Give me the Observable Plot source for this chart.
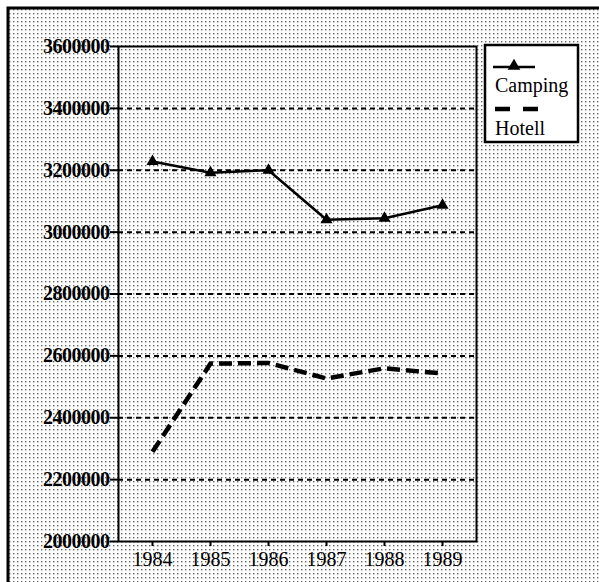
<!DOCTYPE html>
<html>
<head>
<meta charset="utf-8">
<script src="https://cdn.jsdelivr.net/npm/d3@7"></script>
<script src="https://cdn.jsdelivr.net/npm/@observablehq/plot@0.6"></script>
<style>
  html, body { margin: 0; padding: 0; background: #fff; }
  #chart { width: 599px; height: 582px; }
</style>
</head>
<body>
<div id="chart"></div>
<script>
const years = ["1984", "1985", "1986", "1987", "1988", "1989"];
const camping = [3228000, 3192000, 3200000, 3040000, 3045000, 3087000];
const hotell = [2290000, 2575000, 2577000, 2527000, 2560000, 2543000];
const yTicks = [2000000, 2200000, 2400000, 2600000, 2800000, 3000000, 3200000, 3400000, 3600000];
const gridValues = [2200000, 2400000, 2600000, 2800000, 3000000, 3200000, 3400000];
const seriesNames = ["Camping", "Hotell"];

const campData = years.map((y, i) => ({year: y, value: camping[i]}));
const hotData = years.map((y, i) => ({year: y, value: hotell[i]}));

const W = 599, H = 582;
const FONT = "'Liberation Serif', 'Times New Roman', serif";

const plot = Plot.plot({
  width: W,
  height: H,
  marginLeft: 118,
  marginRight: 123,
  marginTop: 46,
  marginBottom: 41,
  style: {fontFamily: FONT, fontSize: "20px", background: "transparent", color: "black"},
  x: {type: "point", domain: years, padding: 0.56, label: null},
  y: {domain: [2000000, 3600000], label: null},
  marks: [
    Plot.ruleY(gridValues, {stroke: "black", strokeWidth: 2, strokeDasharray: "5,4"}),
    Plot.frame({stroke: "black", strokeWidth: 2}),
    Plot.axisY({ticks: yTicks, tickFormat: d3.format("d"), tickSize: 8, tickPadding: 1, stroke: "black", strokeWidth: 2, strokeOpacity: 1, fontSize: 20, fontWeight: "bold", label: null}),
    Plot.axisX({tickSize: 5, tickPadding: 5, stroke: "black", strokeWidth: 2, strokeOpacity: 1, fontSize: 20, label: null}),
    Plot.line(campData, {x: "year", y: "value", stroke: "black", strokeWidth: 2.5}),
    Plot.dot(campData, {x: "year", y: "value", symbol: "triangle", r: 4.5, fill: "black", stroke: "none"}),
    Plot.line(hotData, {x: "year", y: "value", stroke: "black", strokeWidth: 4.5, strokeDasharray: "13,6", strokeLinecap: "butt"})
  ]
});

const svg = d3.select(plot);
svg.selectAll("g[aria-label='y-axis tick label'] text").attr("font-weight", "bold").style("letter-spacing", "-0.5px");
// background halftone pattern
const defs = svg.insert("defs", ":first-child");
const pat = defs.append("pattern").attr("id", "dots").attr("width", 4).attr("height", 4).attr("patternUnits", "userSpaceOnUse");
pat.append("rect").attr("width", 4).attr("height", 4).attr("fill", "#fff");
pat.append("rect").attr("x", 1).attr("y", 1).attr("width", 1.4).attr("height", 1.4).attr("fill", "#666");
svg.insert("rect", "defs + *").attr("x", 8).attr("y", 8).attr("width", W).attr("height", H)
  .attr("fill", "url(#dots)").attr("stroke", "black").attr("stroke-width", 3);

// legend
const lg = svg.append("g").attr("font-family", FONT).attr("font-size", 20).attr("fill", "black").attr("text-anchor", "start");
lg.append("rect").attr("x", 485).attr("y", 45).attr("width", 93).attr("height", 97)
  .attr("fill", "white").attr("stroke", "black").attr("stroke-width", 2.5);
lg.append("line").attr("x1", 493).attr("x2", 535).attr("y1", 67).attr("y2", 67).attr("stroke", "black").attr("stroke-width", 2.5);
lg.append("path").attr("d", d3.symbol(d3.symbolTriangle, 70)()).attr("transform", "translate(514,66)").attr("fill", "black");
lg.append("text").attr("x", 495).attr("y", 92).attr("text-anchor", "start").text(seriesNames[0]);
lg.append("line").attr("x1", 495).attr("x2", 540).attr("y1", 109).attr("y2", 109).attr("stroke", "black")
  .attr("stroke-width", 4.5).attr("stroke-dasharray", "15,13");
lg.append("text").attr("x", 495).attr("y", 135).attr("text-anchor", "start").text(seriesNames[1]);

document.getElementById("chart").appendChild(plot);
</script>
</body>
</html>
